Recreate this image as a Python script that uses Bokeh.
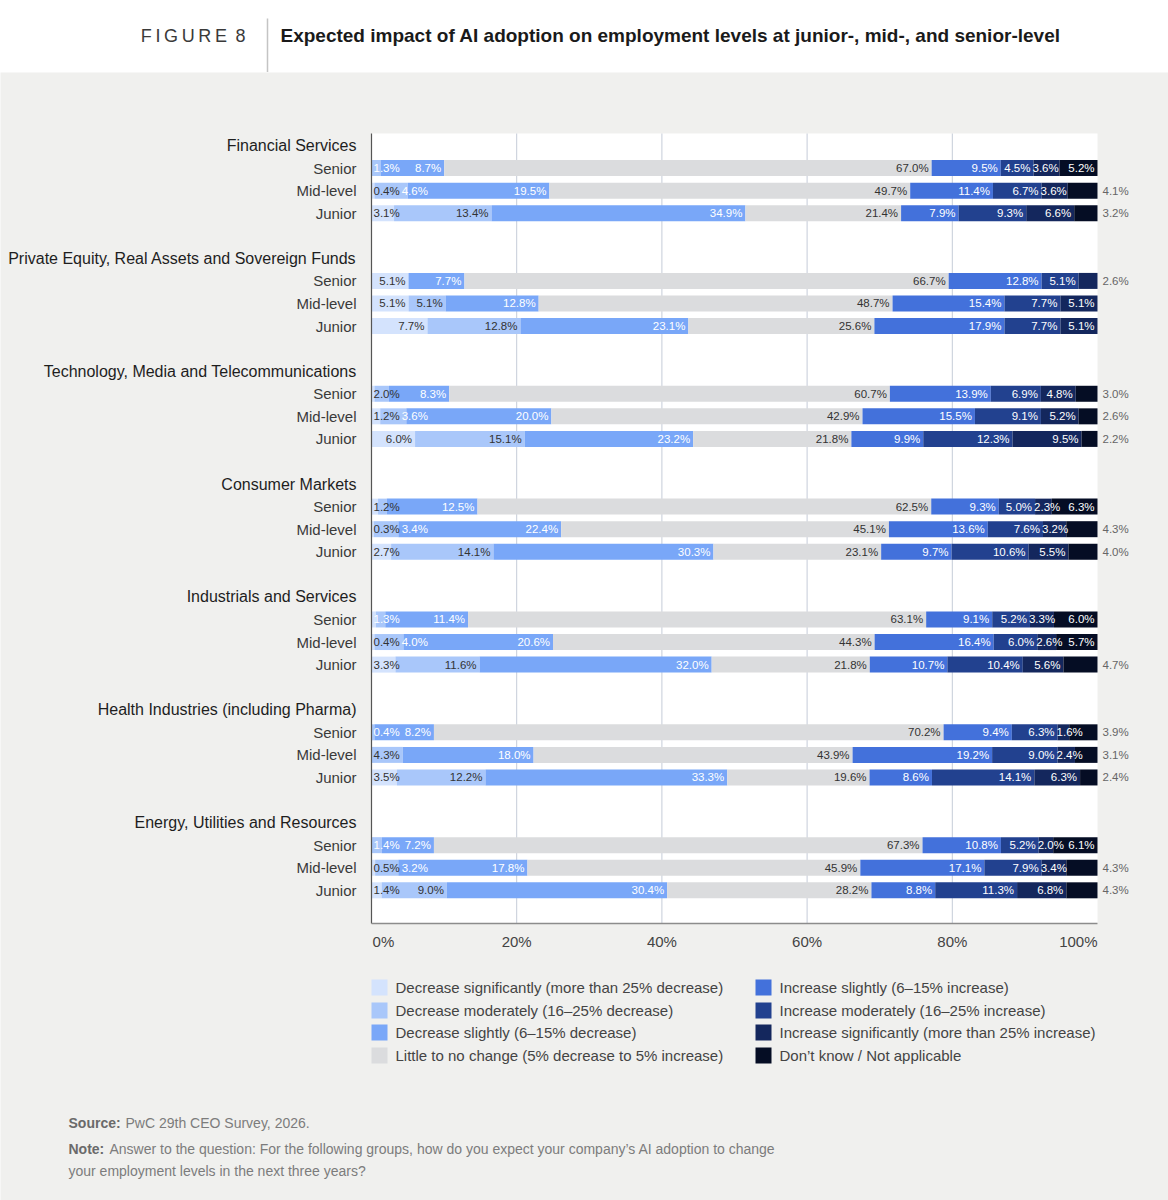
import numpy as np
from bokeh.plotting import figure
from bokeh.models import ColumnDataSource, Range1d
from bokeh.layouts import column
from bokeh.embed import file_html
from bokeh.resources import INLINE
from bokeh.core.properties import value

# ---------------- data ----------------
industries = [
    "Financial Services",
    "Private Equity, Real Assets and Sovereign Funds",
    "Technology, Media and Telecommunications",
    "Consumer Markets",
    "Industrials and Services",
    "Health Industries (including Pharma)",
    "Energy, Utilities and Resources",
]
levels = ["Senior", "Mid-level", "Junior"]

series_names = [
    "Decrease significantly (more than 25% decrease)",
    "Decrease moderately (16–25% decrease)",
    "Decrease slightly (6–15% decrease)",
    "Little to no change (5% decrease to 5% increase)",
    "Increase slightly (6–15% increase)",
    "Increase moderately (16–25% increase)",
    "Increase significantly (more than 25% increase)",
    "Don’t know / Not applicable",
]

# order: for each industry -> Senior, Mid-level, Junior
dec_significantly = [0.0, 0.4, 3.1,  5.1, 5.1, 7.7,  0.4, 1.2, 6.0,  0.9, 0.3, 2.7,
                     0.6, 0.4, 3.3,  0.0, 0.0, 3.5,  0.0, 0.5, 1.4]
dec_moderately = [1.3, 4.6, 13.4,  0.0, 5.1, 12.8,  2.0, 3.6, 15.1,  1.2, 3.4, 14.1,
                  1.3, 4.0, 11.6,  0.4, 4.3, 12.2,  1.4, 3.2, 9.0]
dec_slightly = [8.7, 19.5, 34.9,  7.7, 12.8, 23.1,  8.3, 20.0, 23.2,  12.5, 22.4, 30.3,
                11.4, 20.6, 32.0,  8.2, 18.0, 33.3,  7.2, 17.8, 30.4]
no_change = [67.0, 49.7, 21.4,  66.7, 48.7, 25.6,  60.7, 42.9, 21.8,  62.5, 45.1, 23.1,
             63.1, 44.3, 21.8,  70.2, 43.9, 19.6,  67.3, 45.9, 28.2]
inc_slightly = [9.5, 11.4, 7.9,  12.8, 15.4, 17.9,  13.9, 15.5, 9.9,  9.3, 13.6, 9.7,
                9.1, 16.4, 10.7,  9.4, 19.2, 8.6,  10.8, 17.1, 8.8]
inc_moderately = [4.5, 6.7, 9.3,  5.1, 7.7, 7.7,  6.9, 9.1, 12.3,  5.0, 7.6, 10.6,
                  5.2, 6.0, 10.4,  6.3, 9.0, 14.1,  5.2, 7.9, 11.3]
inc_significantly = [3.6, 3.6, 6.6,  2.6, 5.1, 5.1,  4.8, 5.2, 9.5,  2.3, 3.2, 5.5,
                     3.3, 2.6, 5.6,  1.6, 2.4, 6.3,  2.0, 3.4, 6.8]
dont_know = [5.2, 4.1, 3.2,  0.0, 0.0, 0.0,  3.0, 2.6, 2.2,  6.3, 4.3, 4.0,
             6.0, 5.7, 4.7,  3.9, 3.1, 2.4,  6.1, 4.3, 4.3]

# (industry, level, series) whose value label is not printed in the source chart
unlabeled = {(2, 0, 0), (3, 0, 0), (4, 0, 0)}

tick_values = [0, 20, 40, 60, 80, 100]
tick_labels = ["0%", "20%", "40%", "60%", "80%", "100%"]

title = "Expected impact of AI adoption on employment levels at junior-, mid-, and senior-level"
source_text = "PwC 29th CEO Survey, 2026."
note_line1 = "Answer to the question: For the following groups, how do you expect your company’s AI adoption to change"
note_line2 = "your employment levels in the next three years?"

all_series = [dec_significantly, dec_moderately, dec_slightly, no_change,
              inc_slightly, inc_moderately, inc_significantly, dont_know]

# ---------------- style ----------------
colors = ["#d4e3fd", "#a9c7fa", "#79a7f8", "#dbdcde", "#4371db", "#22418f", "#14275d", "#050d24"]
is_light = [True, True, False, True, False, False, False, False]
FONT = value("Liberation Sans")
BG = "#f0f0ee"
DARK = "#333333"

# ---------------- main figure geometry ----------------
W = 1168
HH = 72                    # header height
H = 1200 - HH
X0, PW = 371, 726          # pixel of 0% and pixel width of 0..100%
Y0, SLOT = 73, 22.57       # pixel of first group title (in main fig), pixels per row slot
PXU = PW / 100.0


def fx(page_x):
    return (page_x - X0) / PW * 100


def fy(page_y):
    return ((page_y - HH) - Y0) / SLOT


p = figure(width=W, height=H,
           x_range=Range1d(-X0 / PW * 100, (W - X0) / PW * 100),
           y_range=Range1d((H - Y0) / SLOT, -Y0 / SLOT),
           output_backend="svg", toolbar_location=None,
           x_axis_location=None, y_axis_location=None,
           min_border=0, background_fill_color=BG, border_fill_color=BG,
           outline_line_color=None)
p.grid.visible = False

top_y, bot_y = fy(133), fy(923)

# white plotting area
p.quad(left=[tick_values[0]], right=[tick_values[-1]], top=[top_y], bottom=[bot_y],
       fill_color="white", line_color=None)
# grid lines
inner = tick_values[1:-1]
p.segment(x0=inner, x1=inner, y0=[top_y] * len(inner), y1=[bot_y] * len(inner),
          line_color="#c5ccd8", line_width=1)

# ---------------- bars ----------------
n = len(industries) * len(levels)
ys = []
for gi in range(len(industries)):
    for li in range(len(levels)):
        ys.append(gi * 5 + 1 + li)
vals = np.array(all_series, dtype=float)          # shape (8, n)
tot = vals.sum(axis=0)
widths = vals / tot * 100
cum = np.vstack([np.zeros(n), np.cumsum(widths, axis=0)])

data = {"y": ys}
for i in range(len(all_series)):
    data[f"l{i}"] = cum[i]
    data[f"r{i}"] = cum[i + 1]
src = ColumnDataSource(data)
BAR_H = 16 / SLOT
for i in range(len(all_series)):
    p.hbar(y="y", left=f"l{i}", right=f"r{i}", height=BAR_H, source=src,
           fill_color=colors[i], line_color=None)

# axis lines
p.segment(x0=[0], x1=[0], y0=[top_y], y1=[bot_y], line_color="#555555", line_width=1.2)
p.segment(x0=[0], x1=[100], y0=[bot_y], y1=[bot_y], line_color="#8c8c8c", line_width=1.5)

# ---------------- value labels ----------------
LS = 11.5


def text_w(s, size):
    w = 0.0
    for ch in s:
        if ch.isdigit():
            w += 0.556
        elif ch == ".":
            w += 0.278
        elif ch == "%":
            w += 0.889
        else:
            w += 0.5
    return w * size


in_x, in_y, in_t, in_c = [], [], [], []
out_x, out_y, out_t = [], [], []
for gi in range(len(industries)):
    for li in range(len(levels)):
        k = gi * 3 + li
        v = vals[:, k]
        c = cum[:, k]
        nz = [i for i in range(len(v)) if v[i] > 0]
        last = nz[-1]
        min_start = 2.0
        for i in nz:
            if (gi, li, i) in unlabeled:
                continue
            lab = f"{v[i]:.1f}%"
            w = text_w(lab, LS)
            if i == last and v[i] < 5:
                out_x.append(100 + 5 / PXU)
                out_y.append(ys[k])
                out_t.append(lab)
                continue
            end = c[i + 1] * PXU - 3
            start = end - w
            if start < min_start:
                start = min_start
                end = start + w
            min_start = end + 2
            mid = (start + end) / 2 / PXU
            seg = i
            for s in range(len(v)):
                if c[s] <= mid < c[s + 1]:
                    seg = s
                    break
            in_x.append(end / PXU)
            in_y.append(ys[k])
            in_t.append(lab)
            in_c.append(DARK if is_light[seg] else "white")

p.text(x="x", y="y", text="t", text_color="c",
       source=ColumnDataSource(dict(x=in_x, y=in_y, t=in_t, c=in_c)),
       text_align="right", text_baseline="middle", text_font=FONT,
       text_font_size=f"{LS}px")
p.text(x="x", y="y", text="t",
       source=ColumnDataSource(dict(x=out_x, y=out_y, t=out_t)),
       text_align="left", text_baseline="middle", text_font=FONT,
       text_font_size=f"{LS}px", text_color="#666666")

# ---------------- category labels ----------------
lab_x = fx(356)
p.text(x=[lab_x] * len(industries), y=[gi * 5 for gi in range(len(industries))],
       text=industries, text_align="right", text_baseline="middle",
       text_font=FONT, text_font_size="16px", text_color="#1e1e1e")
row_text = [levels[li] for gi in range(len(industries)) for li in range(len(levels))]
p.text(x=[lab_x] * len(ys), y=ys, text=row_text, text_align="right",
       text_baseline="middle", text_font=FONT, text_font_size="15px",
       text_color="#3a3a3a")

# ---------------- x tick labels ----------------
ty = fy(941)
p.text(x=[tick_values[0] + 0.15], y=[ty], text=[tick_labels[0]], text_align="left",
       text_baseline="middle", text_font=FONT, text_font_size="15px", text_color="#444444")
p.text(x=tick_values[1:-1], y=[ty] * len(inner), text=tick_labels[1:-1], text_align="center",
       text_baseline="middle", text_font=FONT, text_font_size="15px", text_color="#444444")
p.text(x=[tick_values[-1]], y=[ty], text=[tick_labels[-1]], text_align="right",
       text_baseline="middle", text_font=FONT, text_font_size="15px", text_color="#444444")

# ---------------- legend ----------------
leg_rows = [fy(987), fy(1010), fy(1032), fy(1055)]
leg_sw_x = [fx(379), fx(763)]
leg_tx_x = [fx(395), fx(779)]
sx, sy, sc, tx, ty2, tt = [], [], [], [], [], []
for i, name in enumerate(series_names):
    col, row = divmod(i, 4)
    sx.append(leg_sw_x[col])
    sy.append(leg_rows[row])
    sc.append(colors[i])
    tx.append(leg_tx_x[col])
    ty2.append(leg_rows[row])
    tt.append(name)
p.scatter(x=sx, y=sy, marker="square", size=16, fill_color=sc, line_color=None)
p.text(x=tx, y=ty2, text=tt, text_align="left", text_baseline="middle",
       text_font=FONT, text_font_size="15px", text_color="#444444")

# ---------------- source / note ----------------
p.text(x=[fx(68)], y=[fy(1122)], text=["Source:"], text_font=FONT, text_font_style="bold",
       text_font_size="14px", text_color="#6a6a6a", text_baseline="middle")
p.text(x=[fx(125)], y=[fy(1122)], text=[source_text], text_font=FONT,
       text_font_size="14px", text_color="#7c7c7c", text_baseline="middle")
p.text(x=[fx(68)], y=[fy(1148)], text=["Note:"], text_font=FONT, text_font_style="bold",
       text_font_size="14px", text_color="#6a6a6a", text_baseline="middle")
p.text(x=[fx(109)], y=[fy(1148)], text=[note_line1], text_font=FONT,
       text_font_size="14px", text_color="#7c7c7c", text_baseline="middle")
p.text(x=[fx(68)], y=[fy(1170)], text=[note_line2], text_font=FONT,
       text_font_size="14px", text_color="#7c7c7c", text_baseline="middle")

# ---------------- header ----------------
hdr = figure(width=W, height=HH, x_range=Range1d(0, W), y_range=Range1d(HH, 0),
             output_backend="svg", toolbar_location=None,
             x_axis_location=None, y_axis_location=None, min_border=0,
             background_fill_color="white", border_fill_color="white",
             outline_line_color=None)
hdr.grid.visible = False
hdr.text(x=[245], y=[35], text=["F\u2009I\u2009G\u2009U\u2009R\u2009E\u2009 8"],
         text_align="right", text_baseline="middle", text_font=FONT,
         text_font_size="18px", text_color="#3a3a3a")
hdr.segment(x0=[267], x1=[267], y0=[18], y1=[HH], line_color="#c4c4c4", line_width=1.5)
hdr.text(x=[280], y=[35], text=[title], text_align="left", text_baseline="middle",
         text_font=FONT, text_font_style="bold", text_font_size="19px",
         text_color="#1a1a1a")

page = column(hdr, p, spacing=0)
open("out.html", "w").write(file_html(page, INLINE))
